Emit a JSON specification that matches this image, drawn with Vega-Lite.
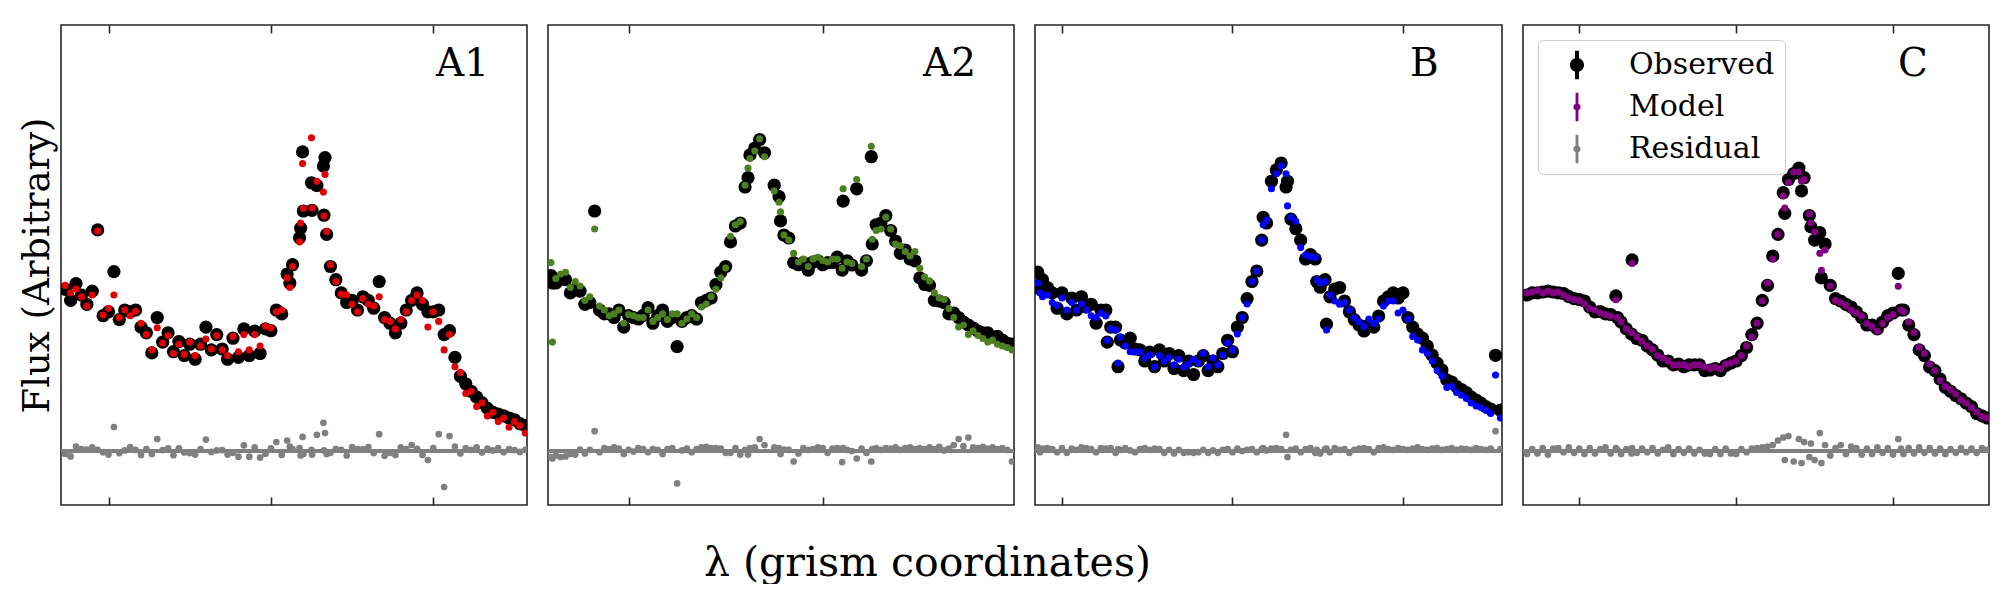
{
"$schema": "https://vega.github.io/schema/vega-lite/v6.json",
"padding": {"left": 17, "top": 23, "right": 5, "bottom": 0},
"config": {
  "view": {"stroke": "#262626", "strokeWidth": 1.6},
  "axis": {"grid": false, "labels": false, "domain": false, "ticks": true, "tickColor": "#262626", "tickWidth": 1.6, "tickSize": -8, "title": null},
  "font": "DejaVu Serif"
},
"title": {"text": "λ (grism coordinates)", "orient": "bottom", "anchor": "middle", "dx": -77, "offset": 37, "fontSize": 41, "font": "DejaVu Serif", "fontWeight": "normal", "color": "black"},
"spacing": 21,
"bounds": "flush",
"resolve": {"scale": {"color": "independent"}, "legend": {"color": "independent"}},
"datasets": {
"A1": [
{"x":22,"o":0.539,"m":0.552,"r":-0.010},{"x":23,"o":0.502,"m":0.527,"r":-0.018},{"x":24,"o":0.558,"m":0.540,"r":0.015},{"x":25,"o":0.520,"m":0.514,"r":0.006},{"x":26,"o":0.489,"m":0.483,"r":0.005},{"x":27,"o":0.533,"m":0.520,"r":0.012},{"x":28,"o":0.737,"m":0.733,"r":0.004},{"x":29,"o":0.451,"m":0.453,"r":-0.004},{"x":30,"o":0.464,"m":0.476,"r":-0.012},{"x":31,"o":0.598,"m":0.520,"r":0.080},{"x":32,"o":0.438,"m":0.445,"r":-0.007},{"x":33,"o":0.470,"m":0.470,"r":0.002},{"x":34,"o":0.464,"m":0.451,"r":0.013},{"x":35,"o":0.470,"m":0.466,"r":0.004},{"x":36,"o":0.413,"m":0.426,"r":-0.013},{"x":37,"o":0.394,"m":0.388,"r":0.006},{"x":38,"o":0.327,"m":0.337,"r":-0.010},{"x":39,"o":0.445,"m":0.411,"r":0.040},{"x":40,"o":0.363,"m":0.360,"r":0.003},{"x":41,"o":0.394,"m":0.385,"r":0.009},{"x":42,"o":0.331,"m":0.325,"r":-0.014},{"x":43,"o":0.365,"m":0.356,"r":0.009},{"x":44,"o":0.318,"m":0.322,"r":-0.005},{"x":45,"o":0.356,"m":0.363,"r":-0.007},{"x":46,"o":0.306,"m":0.318,"r":-0.012},{"x":47,"o":0.356,"m":0.350,"r":0.006},{"x":48,"o":0.413,"m":0.373,"r":0.038},{"x":49,"o":0.337,"m":0.340,"r":-0.003},{"x":50,"o":0.388,"m":0.385,"r":0.002},{"x":51,"o":0.340,"m":0.337,"r":0.003},{"x":52,"o":0.306,"m":0.318,"r":-0.012},{"x":53,"o":0.376,"m":0.382,"r":-0.006},{"x":54,"o":0.312,"m":0.331,"r":-0.019},{"x":55,"o":0.407,"m":0.388,"r":0.019},{"x":56,"o":0.318,"m":0.337,"r":-0.019},{"x":57,"o":0.400,"m":0.388,"r":0.012},{"x":58,"o":0.325,"m":0.350,"r":-0.022},{"x":59,"o":0.407,"m":0.416,"r":-0.009},{"x":60,"o":0.401,"m":0.410,"r":0.009},{"x":61,"o":0.470,"m":0.464,"r":0.030},{"x":62,"o":0.457,"m":0.470,"r":-0.013},{"x":63,"o":0.590,"m":0.577,"r":0.035},{"x":63.5,"o":0.560,"m":0.545,"r":0.015},{"x":64,"o":0.621,"m":0.615,"r":0.006},{"x":65.3,"o":0.711,"m":0.697,"r":0.010},{"x":65.5,"o":0.743,"m":0.760,"r":-0.015},{"x":65.85,"o":0.997,"m":0.958,"r":0.047},{"x":66,"o":0.800,"m":0.809,"r":-0.010},{"x":67.5,"o":0.894,"m":1.044,"r":0.004},{"x":67.6,"o":0.802,"m":0.810,"r":-0.012},{"x":68.5,"o":0.885,"m":0.899,"r":0.054},{"x":69.7,"o":0.950,"m":0.863,"r":0.094},{"x":69.8,"o":0.786,"m":0.783,"r":0.002},{"x":70,"o":0.978,"m":0.922,"r":0.060},{"x":70.3,"o":0.722,"m":0.732,"r":-0.010},{"x":71,"o":0.615,"m":0.621,"r":-0.006},{"x":72,"o":0.571,"m":0.565,"r":0.006},{"x":73,"o":0.527,"m":0.523,"r":0.004},{"x":74,"o":0.495,"m":0.520,"r":-0.015},{"x":75,"o":0.502,"m":0.489,"r":0.013},{"x":76,"o":0.470,"m":0.464,"r":0.006},{"x":77,"o":0.514,"m":0.508,"r":0.006},{"x":78,"o":0.502,"m":0.489,"r":0.013},{"x":79,"o":0.476,"m":0.483,"r":-0.007},{"x":80,"o":0.565,"m":0.514,"r":0.056},{"x":81,"o":0.445,"m":0.438,"r":-0.016},{"x":82,"o":0.426,"m":0.432,"r":-0.006},{"x":83,"o":0.394,"m":0.407,"r":-0.013},{"x":84,"o":0.426,"m":0.438,"r":0.012},{"x":85,"o":0.470,"m":0.464,"r":0.006},{"x":86,"o":0.502,"m":0.502,"r":0.020},{"x":87,"o":0.527,"m":0.520,"r":0.007},{"x":88,"o":0.489,"m":0.502,"r":-0.013},{"x":89,"o":0.464,"m":0.413,"r":-0.030},{"x":90,"o":0.464,"m":0.464,"r":0.010},{"x":91,"o":0.470,"m":0.432,"r":0.056},{"x":92,"o":0.388,"m":0.337,"r":-0.120},{"x":93,"o":0.401,"m":0.388,"r":0.050},{"x":94,"o":0.312,"m":0.281,"r":0.015},{"x":95,"o":0.249,"m":0.262,"r":-0.008},{"x":96,"o":0.224,"m":0.192,"r":0.010},{"x":97,"o":0.199,"m":0.199,"r":0.004},{"x":98,"o":0.180,"m":0.148,"r":0.012},{"x":99,"o":0.161,"m":0.161,"r":-0.005},{"x":100,"o":0.142,"m":0.117,"r":0.008},{"x":101,"o":0.129,"m":0.129,"r":0.002},{"x":102,"o":0.123,"m":0.098,"r":0.010},{"x":103,"o":0.117,"m":0.110,"r":-0.004},{"x":104,"o":0.110,"m":0.079,"r":0.006},{"x":105,"o":0.104,"m":0.098,"r":0.003},{"x":106,"o":0.091,"m":0.085,"r":-0.003},{"x":107,"o":0.085,"m":0.060,"r":0.004}
],
"A2": [
{"x":24,"o":0.585,"m":0.628,"r":-0.020},{"x":24.3,"o":0.560,"m":0.363,"r":-0.025},{"x":25,"o":0.560,"m":0.575,"r":-0.015},{"x":26,"o":0.575,"m":0.590,"r":-0.020},{"x":27,"o":0.571,"m":0.596,"r":-0.018},{"x":28,"o":0.527,"m":0.545,"r":-0.010},{"x":29,"o":0.540,"m":0.565,"r":-0.012},{"x":30,"o":0.533,"m":0.550,"r":0.005},{"x":31,"o":0.489,"m":0.502,"r":-0.008},{"x":32,"o":0.495,"m":0.514,"r":0.004},{"x":33,"o":0.800,"m":0.740,"r":0.066},{"x":34,"o":0.470,"m":0.483,"r":-0.004},{"x":35,"o":0.457,"m":0.470,"r":0.010},{"x":36,"o":0.457,"m":0.451,"r":0.006},{"x":37,"o":0.445,"m":0.457,"r":0.012},{"x":38,"o":0.470,"m":0.470,"r":0.008},{"x":39,"o":0.413,"m":0.426,"r":-0.010},{"x":40,"o":0.451,"m":0.455,"r":0.004},{"x":41,"o":0.445,"m":0.451,"r":-0.002},{"x":42,"o":0.440,"m":0.445,"r":0.010},{"x":43,"o":0.452,"m":0.445,"r":0.006},{"x":44,"o":0.478,"m":0.470,"r":-0.004},{"x":45,"o":0.426,"m":0.432,"r":0.006},{"x":46,"o":0.451,"m":0.445,"r":0.004},{"x":47,"o":0.470,"m":0.457,"r":-0.010},{"x":48,"o":0.432,"m":0.438,"r":0.006},{"x":49,"o":0.445,"m":0.457,"r":0.010},{"x":50,"o":0.348,"m":0.457,"r":-0.108},{"x":51,"o":0.432,"m":0.426,"r":0.002},{"x":52,"o":0.445,"m":0.440,"r":0.008},{"x":53,"o":0.451,"m":0.457,"r":-0.004},{"x":54,"o":0.440,"m":0.445,"r":0.006},{"x":55,"o":0.495,"m":0.480,"r":0.012},{"x":56,"o":0.502,"m":0.490,"r":0.014},{"x":57,"o":0.510,"m":0.515,"r":0.010},{"x":58,"o":0.555,"m":0.539,"r":0.010},{"x":59,"o":0.596,"m":0.577,"r":0.008},{"x":60,"o":0.615,"m":0.610,"r":-0.006},{"x":61,"o":0.697,"m":0.716,"r":-0.006},{"x":62,"o":0.750,"m":0.754,"r":0.010},{"x":63,"o":0.760,"m":0.765,"r":-0.012},{"x":64,"o":0.880,"m":0.886,"r":0.004},{"x":64.6,"o":0.911,"m":0.943,"r":-0.012},{"x":65,"o":0.987,"m":0.975,"r":0.010},{"x":66,"o":1.010,"m":1.000,"r":0.012},{"x":67,"o":1.038,"m":1.041,"r":0.040},{"x":68,"o":0.994,"m":0.981,"r":0.020},{"x":70,"o":0.886,"m":0.867,"r":0.012},{"x":71,"o":0.848,"m":0.829,"r":0.010},{"x":71.3,"o":0.767,"m":0.797,"r":-0.010},{"x":72,"o":0.720,"m":0.720,"r":0.005},{"x":73,"o":0.710,"m":0.703,"r":0.004},{"x":74,"o":0.628,"m":0.659,"r":-0.035},{"x":75,"o":0.621,"m":0.630,"r":-0.008},{"x":76,"o":0.628,"m":0.640,"r":0.010},{"x":77,"o":0.603,"m":0.615,"r":0.004},{"x":78,"o":0.630,"m":0.640,"r":0.006},{"x":79,"o":0.634,"m":0.646,"r":0.012},{"x":80,"o":0.621,"m":0.635,"r":0.010},{"x":81,"o":0.628,"m":0.630,"r":-0.006},{"x":82,"o":0.628,"m":0.640,"r":0.008},{"x":83,"o":0.646,"m":0.640,"r":0.010},{"x":84,"o":0.603,"m":0.609,"r":-0.037},{"x":84.2,"o":0.833,"m":0.874,"r":0.010},{"x":85,"o":0.634,"m":0.630,"r":0.004},{"x":86,"o":0.620,"m":0.625,"r":0.000},{"x":87,"o":0.874,"m":0.905,"r":-0.025},{"x":88,"o":0.603,"m":0.615,"r":0.008},{"x":89,"o":0.634,"m":0.640,"r":-0.006},{"x":90,"o":0.981,"m":1.016,"r":-0.035},{"x":90.2,"o":0.690,"m":0.706,"r":0.006},{"x":91,"o":0.754,"m":0.735,"r":0.010},{"x":92,"o":0.760,"m":0.740,"r":0.004},{"x":93,"o":0.785,"m":0.779,"r":0.010},{"x":94,"o":0.735,"m":0.740,"r":0.008},{"x":95,"o":0.700,"m":0.690,"r":0.012},{"x":96,"o":0.659,"m":0.684,"r":0.004},{"x":97,"o":0.670,"m":0.665,"r":0.010},{"x":98,"o":0.640,"m":0.650,"r":0.012},{"x":99,"o":0.634,"m":0.665,"r":0.006},{"x":100,"o":0.577,"m":0.609,"r":0.010},{"x":101,"o":0.555,"m":0.580,"r":0.006},{"x":102,"o":0.552,"m":0.567,"r":0.012},{"x":103,"o":0.502,"m":0.527,"r":0.006},{"x":104,"o":0.500,"m":0.510,"r":0.014},{"x":105,"o":0.495,"m":0.505,"r":0.002},{"x":106,"o":0.457,"m":0.475,"r":0.008},{"x":107,"o":0.460,"m":0.445,"r":0.020},{"x":108,"o":0.445,"m":0.413,"r":0.040},{"x":109,"o":0.430,"m":0.420,"r":0.016},{"x":110,"o":0.420,"m":0.388,"r":0.045},{"x":111,"o":0.410,"m":0.400,"r":0.012},{"x":112,"o":0.400,"m":0.385,"r":0.010},{"x":113,"o":0.394,"m":0.375,"r":0.014},{"x":114,"o":0.394,"m":0.363,"r":0.008},{"x":115,"o":0.380,"m":0.370,"r":0.012},{"x":116,"o":0.382,"m":0.356,"r":0.006},{"x":117,"o":0.370,"m":0.350,"r":0.010},{"x":118,"o":0.360,"m":0.345,"r":0.004},{"x":119,"o":0.356,"m":0.337,"r":-0.035}
],
"B": [
{"x":30,"o":0.596,"m":0.560,"r":0.012},{"x":30.5,"o":0.540,"m":0.527,"r":-0.004},{"x":31,"o":0.571,"m":0.514,"r":0.008},{"x":32,"o":0.545,"m":0.520,"r":0.010},{"x":33,"o":0.527,"m":0.495,"r":0.006},{"x":34,"o":0.476,"m":0.485,"r":-0.004},{"x":35,"o":0.527,"m":0.510,"r":0.010},{"x":36,"o":0.457,"m":0.470,"r":-0.006},{"x":37,"o":0.510,"m":0.495,"r":0.008},{"x":38,"o":0.470,"m":0.470,"r":0.004},{"x":39,"o":0.514,"m":0.490,"r":0.012},{"x":40,"o":0.480,"m":0.470,"r":0.010},{"x":41,"o":0.489,"m":0.451,"r":0.006},{"x":42,"o":0.426,"m":0.445,"r":-0.004},{"x":43,"o":0.470,"m":0.460,"r":0.010},{"x":44,"o":0.470,"m":0.450,"r":0.008},{"x":44.3,"o":0.363,"m":0.369,"r":0.004},{"x":45,"o":0.413,"m":0.407,"r":0.010},{"x":46,"o":0.413,"m":0.403,"r":-0.006},{"x":46.5,"o":0.281,"m":0.293,"r":0.006},{"x":47,"o":0.370,"m":0.380,"r":0.004},{"x":48,"o":0.360,"m":0.350,"r":0.010},{"x":49,"o":0.376,"m":0.331,"r":0.002},{"x":50,"o":0.340,"m":0.331,"r":-0.004},{"x":51,"o":0.337,"m":0.331,"r":0.006},{"x":52,"o":0.300,"m":0.310,"r":0.010},{"x":53,"o":0.330,"m":0.320,"r":0.004},{"x":54,"o":0.281,"m":0.281,"r":0.008},{"x":55,"o":0.337,"m":0.318,"r":0.006},{"x":56,"o":0.300,"m":0.299,"r":-0.006},{"x":57,"o":0.325,"m":0.312,"r":0.004},{"x":58,"o":0.275,"m":0.287,"r":-0.008},{"x":59,"o":0.318,"m":0.306,"r":0.004},{"x":60,"o":0.268,"m":0.280,"r":-0.006},{"x":61,"o":0.300,"m":0.290,"r":-0.004},{"x":62,"o":0.255,"m":0.306,"r":-0.006},{"x":63,"o":0.300,"m":0.293,"r":-0.004},{"x":64,"o":0.318,"m":0.325,"r":0.004},{"x":65,"o":0.268,"m":0.281,"r":-0.006},{"x":66,"o":0.300,"m":0.310,"r":0.002},{"x":67,"o":0.281,"m":0.287,"r":-0.006},{"x":68,"o":0.325,"m":0.320,"r":0.004},{"x":69,"o":0.369,"m":0.360,"r":0.006},{"x":70,"o":0.331,"m":0.337,"r":-0.004},{"x":71,"o":0.413,"m":0.390,"r":0.008},{"x":72,"o":0.445,"m":0.445,"r":0.000},{"x":73,"o":0.508,"m":0.490,"r":0.004},{"x":74,"o":0.565,"m":0.565,"r":0.006},{"x":75,"o":0.600,"m":0.600,"r":-0.004},{"x":76,"o":0.703,"m":0.703,"r":0.006},{"x":76.3,"o":0.779,"m":0.754,"r":0.010},{"x":77,"o":0.760,"m":0.770,"r":0.002},{"x":78,"o":0.899,"m":0.874,"r":0.008},{"x":79,"o":0.937,"m":0.924,"r":0.010},{"x":80,"o":0.960,"m":0.950,"r":0.006},{"x":81,"o":0.880,"m":0.924,"r":0.054},{"x":81.3,"o":0.899,"m":0.817,"r":-0.020},{"x":82,"o":0.773,"m":0.779,"r":0.004},{"x":83,"o":0.741,"m":0.766,"r":0.008},{"x":84,"o":0.703,"m":0.678,"r":-0.004},{"x":85,"o":0.640,"m":0.653,"r":0.006},{"x":86,"o":0.655,"m":0.648,"r":0.010},{"x":87,"o":0.640,"m":0.645,"r":-0.006},{"x":87.3,"o":0.565,"m":0.571,"r":0.004},{"x":88,"o":0.546,"m":0.560,"r":-0.008},{"x":89,"o":0.571,"m":0.565,"r":0.006},{"x":89.3,"o":0.423,"m":0.403,"r":0.008},{"x":90,"o":0.514,"m":0.520,"r":-0.004},{"x":91,"o":0.540,"m":0.500,"r":0.010},{"x":92,"o":0.545,"m":0.489,"r":0.004},{"x":93,"o":0.500,"m":0.495,"r":0.006},{"x":94,"o":0.464,"m":0.470,"r":-0.006},{"x":95,"o":0.438,"m":0.445,"r":0.004},{"x":96,"o":0.420,"m":0.430,"r":0.008},{"x":97,"o":0.400,"m":0.415,"r":0.010},{"x":98,"o":0.420,"m":0.440,"r":0.006},{"x":99,"o":0.413,"m":0.425,"r":-0.004},{"x":100,"o":0.450,"m":0.440,"r":0.010},{"x":101,"o":0.500,"m":0.483,"r":0.012},{"x":102,"o":0.514,"m":0.500,"r":0.006},{"x":103,"o":0.527,"m":0.500,"r":0.004},{"x":104,"o":0.510,"m":0.460,"r":0.010},{"x":105,"o":0.527,"m":0.470,"r":0.006},{"x":106,"o":0.445,"m":0.440,"r":0.004},{"x":107,"o":0.413,"m":0.382,"r":0.008},{"x":108,"o":0.390,"m":0.370,"r":0.012},{"x":109,"o":0.376,"m":0.337,"r":0.006},{"x":110,"o":0.350,"m":0.325,"r":0.004},{"x":111,"o":0.320,"m":0.300,"r":0.008},{"x":112,"o":0.293,"m":0.268,"r":0.010},{"x":113,"o":0.270,"m":0.250,"r":0.004},{"x":114,"o":0.237,"m":0.212,"r":0.006},{"x":115,"o":0.230,"m":0.215,"r":0.010},{"x":116,"o":0.215,"m":0.195,"r":0.004},{"x":117,"o":0.205,"m":0.186,"r":0.008},{"x":118,"o":0.195,"m":0.175,"r":0.006},{"x":119,"o":0.180,"m":0.160,"r":0.004},{"x":120,"o":0.170,"m":0.150,"r":0.010},{"x":121,"o":0.160,"m":0.145,"r":0.006},{"x":122,"o":0.148,"m":0.136,"r":0.004},{"x":123,"o":0.140,"m":0.125,"r":0.008},{"x":124,"o":0.319,"m":0.253,"r":0.066},{"x":125,"o":0.136,"m":0.110,"r":0.006}
],
"C": [
{"x":20,"o":0.520,"m":0.527,"r":-0.010},{"x":21,"o":0.527,"m":0.530,"r":0.006},{"x":22,"o":0.527,"m":0.535,"r":-0.008},{"x":23,"o":0.530,"m":0.527,"r":0.010},{"x":24,"o":0.533,"m":0.533,"r":-0.012},{"x":25,"o":0.530,"m":0.527,"r":0.008},{"x":26,"o":0.527,"m":0.530,"r":0.010},{"x":27,"o":0.525,"m":0.520,"r":-0.004},{"x":28,"o":0.515,"m":0.510,"r":0.012},{"x":29,"o":0.508,"m":0.505,"r":-0.006},{"x":30,"o":0.505,"m":0.502,"r":0.008},{"x":31,"o":0.500,"m":0.490,"r":-0.010},{"x":32,"o":0.480,"m":0.475,"r":0.010},{"x":33,"o":0.464,"m":0.470,"r":-0.008},{"x":34,"o":0.465,"m":0.460,"r":0.006},{"x":35,"o":0.457,"m":0.455,"r":0.012},{"x":36,"o":0.455,"m":0.450,"r":-0.008},{"x":37,"o":0.517,"m":0.504,"r":0.010},{"x":37.3,"o":0.445,"m":0.445,"r":0.004},{"x":38,"o":0.430,"m":0.430,"r":-0.010},{"x":39,"o":0.407,"m":0.407,"r":0.006},{"x":40,"o":0.390,"m":0.395,"r":-0.008},{"x":40.1,"o":0.637,"m":0.625,"r":0.010},{"x":41,"o":0.375,"m":0.380,"r":-0.006},{"x":42,"o":0.369,"m":0.365,"r":0.008},{"x":43,"o":0.350,"m":0.350,"r":-0.004},{"x":44,"o":0.337,"m":0.340,"r":0.010},{"x":45,"o":0.320,"m":0.318,"r":-0.008},{"x":46,"o":0.300,"m":0.310,"r":0.004},{"x":47,"o":0.300,"m":0.300,"r":0.012},{"x":48,"o":0.287,"m":0.287,"r":-0.010},{"x":49,"o":0.290,"m":0.287,"r":0.006},{"x":50,"o":0.281,"m":0.287,"r":-0.006},{"x":51,"o":0.287,"m":0.281,"r":0.008},{"x":52,"o":0.287,"m":0.287,"r":-0.008},{"x":53,"o":0.287,"m":0.287,"r":0.004},{"x":54,"o":0.268,"m":0.280,"r":-0.008},{"x":55,"o":0.270,"m":0.275,"r":-0.010},{"x":56,"o":0.275,"m":0.280,"r":0.006},{"x":57,"o":0.268,"m":0.274,"r":-0.010},{"x":58,"o":0.285,"m":0.290,"r":0.008},{"x":59,"o":0.293,"m":0.293,"r":-0.008},{"x":60,"o":0.300,"m":0.300,"r":-0.010},{"x":61,"o":0.318,"m":0.318,"r":0.006},{"x":62,"o":0.345,"m":0.350,"r":-0.004},{"x":63,"o":0.388,"m":0.380,"r":0.008},{"x":64,"o":0.426,"m":0.426,"r":0.010},{"x":65,"o":0.502,"m":0.500,"r":0.012},{"x":66,"o":0.552,"m":0.560,"r":0.015},{"x":67,"o":0.650,"m":0.640,"r":0.020},{"x":68,"o":0.722,"m":0.722,"r":0.035},{"x":69,"o":0.861,"m":0.850,"r":0.045},{"x":69.3,"o":0.792,"m":0.810,"r":-0.030},{"x":70,"o":0.905,"m":0.895,"r":0.050},{"x":71,"o":0.925,"m":0.930,"r":-0.035},{"x":72,"o":0.943,"m":0.930,"r":0.040},{"x":72.5,"o":0.867,"m":0.900,"r":-0.040},{"x":73,"o":0.911,"m":0.905,"r":0.030},{"x":74,"o":0.785,"m":0.790,"r":-0.020},{"x":74.3,"o":0.747,"m":0.760,"r":0.025},{"x":75,"o":0.703,"m":0.730,"r":-0.030},{"x":76,"o":0.728,"m":0.659,"r":0.060},{"x":76.3,"o":0.577,"m":0.602,"r":-0.040},{"x":77,"o":0.690,"m":0.670,"r":0.020},{"x":78,"o":0.552,"m":0.550,"r":-0.015},{"x":79,"o":0.508,"m":0.502,"r":0.010},{"x":80,"o":0.500,"m":0.495,"r":0.020},{"x":81,"o":0.489,"m":0.485,"r":-0.010},{"x":82,"o":0.480,"m":0.470,"r":0.015},{"x":83,"o":0.464,"m":0.460,"r":0.010},{"x":84,"o":0.445,"m":0.450,"r":-0.012},{"x":85,"o":0.420,"m":0.425,"r":0.008},{"x":86,"o":0.420,"m":0.415,"r":-0.010},{"x":87,"o":0.407,"m":0.400,"r":0.012},{"x":88,"o":0.430,"m":0.425,"r":-0.006},{"x":89,"o":0.451,"m":0.445,"r":0.010},{"x":90,"o":0.460,"m":0.455,"r":-0.012},{"x":91,"o":0.592,"m":0.549,"r":0.040},{"x":91.5,"o":0.470,"m":0.470,"r":0.008},{"x":92,"o":0.470,"m":0.465,"r":-0.010},{"x":93,"o":0.420,"m":0.430,"r":0.010},{"x":94,"o":0.388,"m":0.395,"r":-0.008},{"x":95,"o":0.337,"m":0.345,"r":0.012},{"x":96,"o":0.318,"m":0.325,"r":-0.006},{"x":97,"o":0.280,"m":0.290,"r":0.010},{"x":98,"o":0.268,"m":0.268,"r":-0.008},{"x":99,"o":0.240,"m":0.235,"r":0.008},{"x":100,"o":0.212,"m":0.215,"r":-0.010},{"x":101,"o":0.199,"m":0.205,"r":0.006},{"x":102,"o":0.185,"m":0.190,"r":-0.006},{"x":103,"o":0.174,"m":0.170,"r":0.010},{"x":104,"o":0.160,"m":0.160,"r":-0.004},{"x":105,"o":0.148,"m":0.145,"r":0.008},{"x":106,"o":0.125,"m":0.130,"r":-0.006},{"x":107,"o":0.117,"m":0.115,"r":0.010},{"x":108,"o":0.110,"m":0.110,"r":0.004}
]
},
"hconcat": [
{
  "width": 466, "height": 480,
  "data": {"name": "A1"},
  "title": {"text": "A1", "anchor": "start", "frame": "group", "dx": 375, "offset": -91, "baseline": "alphabetic", "fontSize": 39, "font": "DejaVu Serif", "fontWeight": "normal", "color": "black"},
  "layer": [
    {"mark": {"type": "rule", "color": "#808080", "strokeWidth": 4}, "encoding": {"y": {"datum": 0, "type": "quantitative", "scale": {"domain": [-0.18, 1.42], "nice": false, "zero": false}, "axis": {"title": "Flux (Arbitrary)", "ticks": false, "labels": false, "domain": false, "titleFont": "DejaVu Serif", "titleFontSize": 37, "titleFontWeight": "normal", "titleColor": "black", "titlePadding": 5}}}},
    {"mark": {"type": "point", "filled": true, "opacity": 1, "size": 45, "color": "#808080", "clip": true}, "encoding": {"x": {"field": "x", "type": "quantitative", "scale": {"domain": [21.225, 107.31], "nice": false, "zero": false}, "axis": {"orient": "bottom", "values": [30, 60, 90]}}, "y": {"field": "r", "type": "quantitative", "axis": {"title": "Flux (Arbitrary)", "ticks": false, "labels": false, "domain": false, "titleFont": "DejaVu Serif", "titleFontSize": 37, "titleFontWeight": "normal", "titleColor": "black", "titlePadding": 5}}}},
    {"mark": {"type": "point", "filled": true, "opacity": 1, "size": 175, "color": "black", "clip": true}, "encoding": {"x": {"field": "x", "type": "quantitative", "axis": {"orient": "top", "values": [30, 60, 90]}}, "y": {"field": "o", "type": "quantitative", "axis": {"title": "Flux (Arbitrary)", "ticks": false, "labels": false, "domain": false, "titleFont": "DejaVu Serif", "titleFontSize": 37, "titleFontWeight": "normal", "titleColor": "black", "titlePadding": 5}}}},
    {"mark": {"type": "point", "filled": true, "opacity": 1, "size": 50, "color": "#e00000", "clip": true}, "encoding": {"x": {"field": "x", "type": "quantitative", "axis": null}, "y": {"field": "m", "type": "quantitative", "axis": {"title": "Flux (Arbitrary)", "ticks": false, "labels": false, "domain": false, "titleFont": "DejaVu Serif", "titleFontSize": 37, "titleFontWeight": "normal", "titleColor": "black", "titlePadding": 5}}}}
  ],
  "resolve": {"axis": {"x": "independent"}}
},
{
  "width": 466, "height": 480,
  "data": {"name": "A2"},
  "title": {"text": "A2", "anchor": "start", "frame": "group", "dx": 375, "offset": -91, "baseline": "alphabetic", "fontSize": 39, "font": "DejaVu Serif", "fontWeight": "normal", "color": "black"},
  "layer": [
    {"mark": {"type": "rule", "color": "#808080", "strokeWidth": 4}, "encoding": {"y": {"datum": 0, "type": "quantitative", "scale": {"domain": [-0.18, 1.42], "nice": false, "zero": false}, "axis": null}}},
    {"mark": {"type": "point", "filled": true, "opacity": 1, "size": 45, "color": "#808080", "clip": true}, "encoding": {"x": {"field": "x", "type": "quantitative", "scale": {"domain": [23.39, 119.41], "nice": false, "zero": false}, "axis": {"orient": "bottom", "values": [40, 80]}}, "y": {"field": "r", "type": "quantitative", "axis": null}}},
    {"mark": {"type": "point", "filled": true, "opacity": 1, "size": 175, "color": "black", "clip": true}, "encoding": {"x": {"field": "x", "type": "quantitative", "axis": {"orient": "top", "values": [40, 80]}}, "y": {"field": "o", "type": "quantitative", "axis": null}}},
    {"mark": {"type": "point", "filled": true, "opacity": 1, "size": 50, "color": "#4b7f1f", "clip": true}, "encoding": {"x": {"field": "x", "type": "quantitative", "axis": null}, "y": {"field": "m", "type": "quantitative", "axis": null}}}
  ],
  "resolve": {"axis": {"x": "independent"}}
},
{
  "width": 467, "height": 480,
  "data": {"name": "B"},
  "title": {"text": "B", "anchor": "start", "frame": "group", "dx": 375, "offset": -91, "baseline": "alphabetic", "fontSize": 39, "font": "DejaVu Serif", "fontWeight": "normal", "color": "black"},
  "layer": [
    {"mark": {"type": "rule", "color": "#808080", "strokeWidth": 4}, "encoding": {"y": {"datum": 0, "type": "quantitative", "scale": {"domain": [-0.18, 1.42], "nice": false, "zero": false}, "axis": null}}},
    {"mark": {"type": "point", "filled": true, "opacity": 1, "size": 45, "color": "#808080", "clip": true}, "encoding": {"x": {"field": "x", "type": "quantitative", "scale": {"domain": [29.457, 125.33], "nice": false, "zero": false}, "axis": {"orient": "bottom", "values": [35, 70, 105]}}, "y": {"field": "r", "type": "quantitative", "axis": null}}},
    {"mark": {"type": "point", "filled": true, "opacity": 1, "size": 175, "color": "black", "clip": true}, "encoding": {"x": {"field": "x", "type": "quantitative", "axis": {"orient": "top", "values": [35, 70, 105]}}, "y": {"field": "o", "type": "quantitative", "axis": null}}},
    {"mark": {"type": "point", "filled": true, "opacity": 1, "size": 50, "color": "#0000ff", "clip": true}, "encoding": {"x": {"field": "x", "type": "quantitative", "axis": null}, "y": {"field": "m", "type": "quantitative", "axis": null}}}
  ],
  "resolve": {"axis": {"x": "independent"}}
},
{
  "width": 466, "height": 480,
  "data": {"name": "C"},
  "title": {"text": "C", "anchor": "start", "frame": "group", "dx": 375, "offset": -91, "baseline": "alphabetic", "fontSize": 39, "font": "DejaVu Serif", "fontWeight": "normal", "color": "black"},
  "layer": [
    {"mark": {"type": "rule", "color": "#808080", "strokeWidth": 4}, "encoding": {"y": {"datum": 0, "type": "quantitative", "scale": {"domain": [-0.18, 1.42], "nice": false, "zero": false}, "axis": null}}},
    {"mark": {"type": "point", "filled": true, "opacity": 1, "size": 45, "clip": true}, "encoding": {"x": {"field": "x", "type": "quantitative", "scale": {"domain": [19.24, 108.35], "nice": false, "zero": false}, "axis": {"orient": "bottom", "values": [30, 60, 90]}}, "y": {"field": "r", "type": "quantitative", "axis": null},
      "color": {"datum": "Residual", "type": "nominal", "scale": {"domain": ["Observed", "Model", "Residual"], "range": ["#000000", "#800080", "#808080"]},
        "legend": {"title": null, "orient": "none", "legendX": 15, "legendY": 15, "padding": 10, "symbolSize": 820, "symbolOffset": 14, "labelOffset": 37, "rowPadding": 12, "labelFont": "DejaVu Serif", "labelFontSize": 30, "labelColor": "black", "strokeColor": "#cccccc", "fillColor": "rgba(255,255,255,0.85)", "cornerRadius": 5, "symbolStrokeWidth": 0, "symbolOpacity": 1,
          "encode": {"symbols": {"update": {"shape": {"signal": "datum.value === 'Observed' ? 'M-0.49,0A0.49,0.49,0,1,1,0.49,0A0.49,0.49,0,1,1,-0.49,0Z M-0.14,-1L0.14,-1L0.14,1L-0.14,1Z' : 'M-0.25,0A0.25,0.25,0,1,1,0.25,0A0.25,0.25,0,1,1,-0.25,0Z M-0.1,-1L0.1,-1L0.1,1L-0.1,1Z'"}}}}}}}},
    {"mark": {"type": "point", "filled": true, "opacity": 1, "size": 175, "clip": true}, "encoding": {"x": {"field": "x", "type": "quantitative", "axis": {"orient": "top", "values": [30, 60, 90]}}, "y": {"field": "o", "type": "quantitative", "axis": null}, "color": {"datum": "Observed", "type": "nominal"}}},
    {"mark": {"type": "point", "filled": true, "opacity": 1, "size": 50, "clip": true}, "encoding": {"x": {"field": "x", "type": "quantitative", "axis": null}, "y": {"field": "m", "type": "quantitative", "axis": null}, "color": {"datum": "Model", "type": "nominal"}}}
  ],
  "resolve": {"axis": {"x": "independent"}}
}
]
}
